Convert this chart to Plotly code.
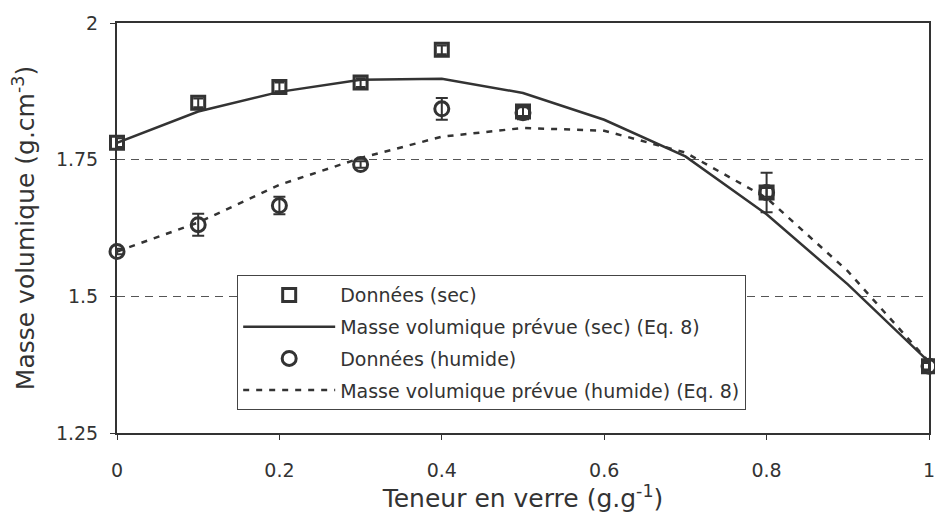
import plotly.graph_objects as go

# Measured data
x_data = [0, 0.1, 0.2, 0.3, 0.4, 0.5, 0.8, 1.0]
y_sec = [1.781, 1.854, 1.883, 1.891, 1.951, 1.838, 1.690, 1.372]
err_sec = [0.008, 0.008, 0.008, 0.008, 0.008, 0.008, 0.008, 0.008]
y_hum = [1.582, 1.631, 1.666, 1.741, 1.843, 1.836, 1.690, 1.372]
err_hum = [0.005, 0.020, 0.016, 0.006, 0.020, 0.012, 0.036, 0.006]

# Model curves (Eq. 8)
x_model = [0, 0.1, 0.2, 0.3, 0.4, 0.5, 0.6, 0.7, 0.8, 0.9, 1.0]
y_model_sec = [1.781, 1.838, 1.874, 1.896, 1.898, 1.872, 1.823, 1.756, 1.650, 1.522, 1.380]
y_model_hum = [1.582, 1.635, 1.704, 1.753, 1.792, 1.808, 1.803, 1.763, 1.680, 1.546, 1.380]

x_ticks = [0, 0.2, 0.4, 0.6, 0.8, 1.0]
x_ticktext = ["0", "0.2", "0.4", "0.6", "0.8", "1"]
y_ticks = [1.25, 1.5, 1.75, 2.0]
y_ticktext = ["1.25", "1.5", "1.75", "2"]

names = ["Données (sec)", "Masse volumique prévue (sec) (Eq. 8)",
         "Données (humide)", "Masse volumique prévue (humide) (Eq. 8)"]

ink = "#333333"
font = "DejaVu Sans, sans-serif"

fig = go.Figure()
fig.add_trace(go.Scatter(
    x=x_model, y=y_model_sec, mode="lines", name=names[1], legendgroup="b",
    line=dict(color=ink, width=2.5), legendrank=2, cliponaxis=False))
fig.add_trace(go.Scatter(
    x=x_model, y=y_model_hum, mode="lines", name=names[3], legendgroup="d",
    line=dict(color=ink, width=2.5, dash="6px,7px"), legendrank=4, cliponaxis=False))
fig.add_trace(go.Scatter(
    x=x_data, y=y_sec, mode="markers", name=names[0], legendgroup="a",
    marker=dict(symbol="square-open", size=13, color=ink, line=dict(width=3, color=ink)),
    error_y=dict(type="data", array=err_sec, color=ink, thickness=2, width=5),
    legendrank=1, cliponaxis=False))
fig.add_trace(go.Scatter(
    x=x_data, y=y_hum, mode="markers", name=names[2], legendgroup="c",
    marker=dict(symbol="circle-open", size=14, color=ink, line=dict(width=3, color=ink)),
    error_y=dict(type="data", array=err_hum, color=ink, thickness=2, width=6),
    legendrank=3, cliponaxis=False))

fig.update_layout(
    width=935, height=528,
    margin=dict(l=117, r=0, t=23, b=95),
    paper_bgcolor="white", plot_bgcolor="white",
    font=dict(family=font, color="#333333", size=19),
    showlegend=True,
    legend=dict(
        x=0.148, y=0.385, xanchor="left", yanchor="top",
        bordercolor="#444444", borderwidth=1, bgcolor="white",
        font=dict(size=19, color="#333333"),
        traceorder="grouped", tracegroupgap=4, itemwidth=92,
    ),
)
fig.update_xaxes(
    range=[0, 1.0], tickvals=x_ticks, ticktext=x_ticktext,
    showline=True, linecolor=ink, linewidth=2, mirror=True,
    ticks="outside", ticklen=5, tickcolor=ink, ticklabelstandoff=14,
    ticklabeloverflow="allow",
    showgrid=False, zeroline=False,
    tickfont=dict(size=19),
    title=dict(text="Teneur en verre (g.g<sup>-1</sup>)", font=dict(size=25), standoff=7),
)
fig.update_yaxes(
    range=[1.25, 2.0], tickvals=y_ticks, ticktext=y_ticktext,
    showline=True, linecolor=ink, linewidth=2, mirror=True,
    ticks="outside", ticklen=5, tickcolor=ink, ticklabelstandoff=8,
    showgrid=True, gridcolor="#555555", gridwidth=1, griddash="8px,6px",
    zeroline=False, tickfont=dict(size=19),
    title=dict(text="Masse volumique (g.cm<sup>-3</sup>)", font=dict(size=25), standoff=14),
)

fig.write_html(
    "out.html",
    config={"displayModeBar": False},
    post_script="document.body.style.margin='0px'; document.body.style.overflow='hidden';",
)
